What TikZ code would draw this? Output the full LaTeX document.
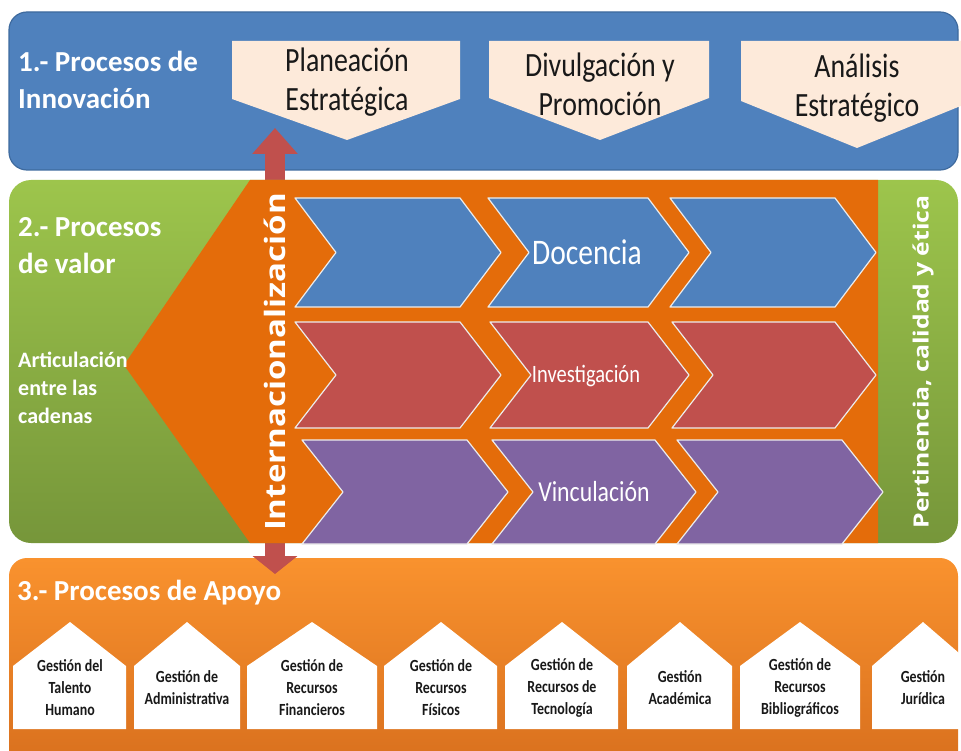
\documentclass[tikz,border=0pt]{standalone}
\usepackage{fontspec}
\setmainfont{Carlito}
\newfontfamily\narrowfont[FakeStretch=0.82]{Carlito}
\newfontfamily\widefont[FakeStretch=1.18]{Open Sans}
\usepackage{tikz}
\usetikzlibrary{arrows.meta}
\definecolor{azul}{HTML}{4F81BD}
\definecolor{azulborde}{HTML}{3E6A9E}
\definecolor{durazno}{HTML}{FDEADA}
\definecolor{verdeA}{HTML}{9DC54C}
\definecolor{verdeB}{HTML}{76963A}
\definecolor{naranja}{HTML}{E46C0A}
\definecolor{naranjaA}{HTML}{F9922E}
\definecolor{naranjaB}{HTML}{D56C1C}
\definecolor{rojo}{HTML}{C0504D}
\definecolor{rojoborde}{HTML}{8E3B39}
\definecolor{morado}{HTML}{8064A2}

\begin{document}
\begin{tikzpicture}[line cap=round,line join=round,x=1pt,y=-1pt,
    chevron/.style={draw=white!85!gray,line width=1.2pt},
    titulo/.style={text=white,font=\bfseries\fontsize{29}{37}\selectfont,align=left,inner sep=0pt},
    etapa/.style={text=black!90,font=\narrowfont\fontsize{34}{39}\selectfont,align=center,inner sep=0pt},
    casatxt/.style={text=black!90,font=\narrowfont\bfseries\fontsize{17}{22}\selectfont,align=center,inner sep=0pt},
    vertical/.style={text=white,rotate=90,inner sep=0pt}]
        \useasboundingbox (0,0) rectangle (961,751);
        \clip (0,0) rectangle (961,751);
        % 1.- procesos de innovacion
        \draw [rounded corners=18,fill=azul,draw=azulborde,line width=1.2pt] (9,12) rectangle (958,170);
        \fill [durazno] (232,41) -- (460,41) -- (460,99) -- (347,140) -- (232,99) -- cycle;
        \fill [durazno] (489,41) -- (709,41) -- (709,98) -- (600,140) -- (489,98) -- cycle;
        \fill [durazno] (741,41) -- (973,41) -- (973,101) -- (857,148) -- (741,101) -- cycle;
        \node[titulo,anchor=west] (innovacion) at (18,80) {1.- Procesos de\\Innovación};
        \node[etapa] (planeacion) at (347,82) {Planeación\\Estratégica};
        \node[etapa] (divulgacion) at (600,84) {Divulgación y\\Promoción};
        \node[etapa] (analisis) at (857,88) {Análisis\\Estratégico};
        % 3.- procesos de apoyo
        \shade [rounded corners=18,top color=naranjaA,bottom color=naranjaB] (9,558) rectangle (958,790);
        \node[titulo,anchor=base west] (apoyo) at (17,600) {3.- Procesos de Apoyo};
        \foreach \xa/\xp/\xb/\txt [count=\i] in {13/70/126/{Gestión del\\Talento\\Humano},
            134/187/240/{Gestión de\\Administrativa},
            247/312/377/{Gestión de\\Recursos\\Financieros},
            384/441/497/{Gestión de\\Recursos\\Físicos},
            505/562/618/{Gestión de\\Recursos de\\Tecnología},
            627/680/732/{Gestión\\Académica},
            740/800/860/{Gestión de\\Recursos\\Bibliográficos},
            872/923/974/{Gestión\\Jurídica}}{
            \fill [white] (\xa,729) -- (\xa,666) -- (\xp,622) -- (\xb,666) -- (\xb,729) -- cycle;
            \node[casatxt] (casa\i) at (\xp,688) {\txt};
        }
        % flecha de internacionalizacion
        \coordinate (intarriba) at (275,128);
        \coordinate (intabajo) at (275,574);
        \draw [draw=rojo,line width=20pt,line cap=butt,
            {Triangle[width=44pt,length=26pt]}-{Triangle[width=44pt,length=18pt]}] (intarriba) -- (intabajo);
        % 2.- procesos de valor
        \shade [rounded corners=22,top color=verdeA,bottom color=verdeB] (9,180) rectangle (958,543);
        \fill [naranja] (250,180) -- (878,180) -- (878,543) -- (250,543) -- (124,365) -- cycle;
        \foreach \xa/\xb in {295/460,488/648,670/835}
            \draw [chevron,fill=azul] (\xa,198) -- (\xb,198) -- (\xb+41,252.5) -- (\xb,307) -- (\xa,307) -- (\xa+41,252.5) -- cycle;
        \foreach \xa/\xb in {295/460,490/648,672/835}
            \draw [chevron,fill=rojo] (\xa,322) -- (\xb,322) -- (\xb+41,375) -- (\xb,428) -- (\xa,428) -- (\xa+41,375) -- cycle;
        \foreach \xa/\xb in {302/467,492/655,677/842}
            \draw [chevron,fill=morado] (\xa,440) -- (\xb,440) -- (\xb+41,492) -- (\xb,544) -- (\xa,544) -- (\xa+41,492) -- cycle;
        \node[text=white,font=\narrowfont\fontsize{36}{40}\selectfont] (docencia) at (587,252) {Docencia};
        \node[text=white,font=\narrowfont\fontsize{25}{30}\selectfont] (investigacion) at (586,376) {Investigación};
        \node[text=white,font=\narrowfont\fontsize{29}{34}\selectfont] (vinculacion) at (594,492) {Vinculación};
        \node[titulo,anchor=west] (valor) at (18,246) {2.- Procesos\\de valor};
        \node[titulo,anchor=west,font=\bfseries\fontsize{22}{28}\selectfont] (articulacion) at (18,388) {Articulación\\entre las\\cadenas};
        \node[vertical,font=\widefont\bfseries\fontsize{28}{32}\selectfont] (inter) at (275,362) {Internacionalización};
        \node[vertical,font=\widefont\bfseries\fontsize{21}{25}\selectfont] (pertinencia) at (923,362) {Pertinencia, calidad y ética};
    \end{tikzpicture}
\end{document}
